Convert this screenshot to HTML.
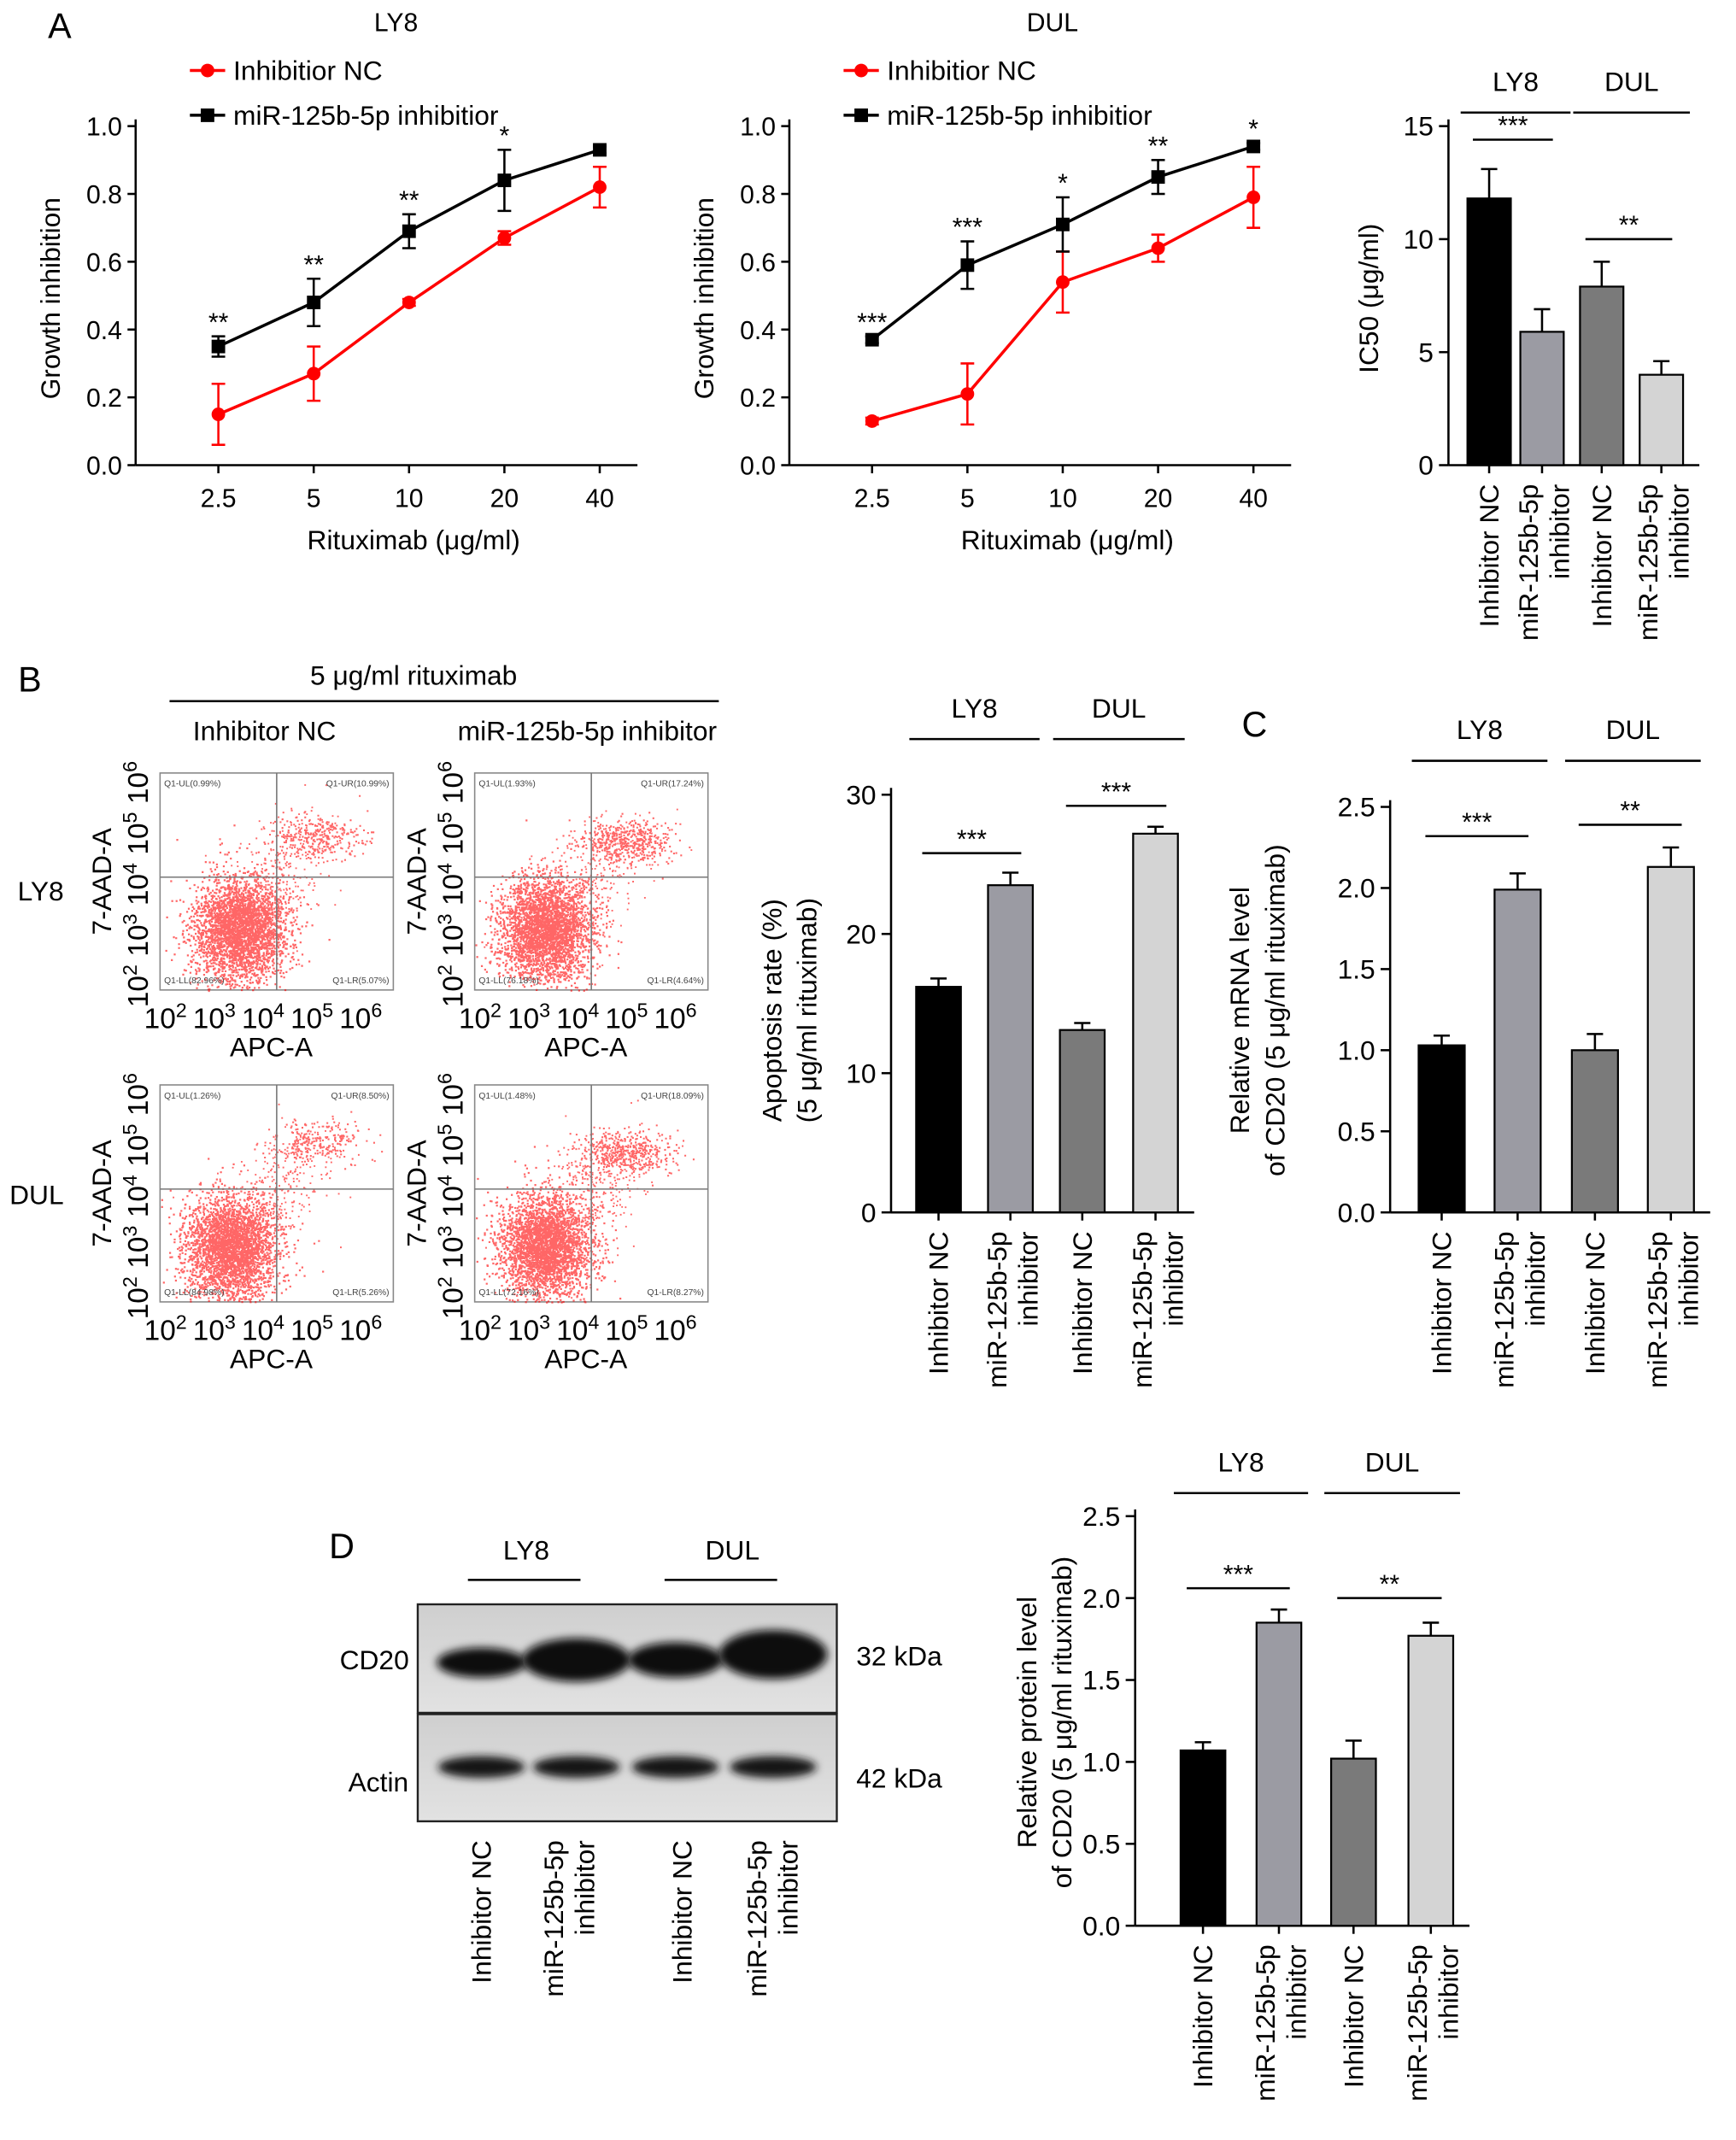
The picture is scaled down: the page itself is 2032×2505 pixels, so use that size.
<!DOCTYPE html>
<html><head><meta charset="utf-8"><style>
html,body{margin:0;padding:0;background:#fff;}
svg{display:block;font-family:"Liberation Sans",Arial,sans-serif;}
</style></head><body>
<svg id="fig" width="2032" height="2505" viewBox="0 0 1280 1578" xmlns="http://www.w3.org/2000/svg">
<defs>
<filter id="blur1" x="-20%" y="-50%" width="140%" height="200%"><feGaussianBlur stdDeviation="3"/></filter>
<linearGradient id="blotbg" x1="0" y1="0" x2="0" y2="1"><stop offset="0" stop-color="#cfcfcf"/><stop offset="1" stop-color="#e2e2e2"/></linearGradient>
</defs>
</svg>
<script>
// ---- data ----
const doseLabels = ['2.5','5','10','20','40'];
const ly8NC = [0.15,0.27,0.48,0.67,0.82];
const ly8NCErr = [0.09,0.08,0.01,0.02,0.06];
const ly8Inh = [0.35,0.48,0.69,0.84,0.93];
const ly8InhErr = [0.03,0.07,0.05,0.09,0.01];
const ly8Stars = ['**','**','**','*',''];
const dulNC = [0.13,0.21,0.54,0.64,0.79];
const dulNCErr = [0.01,0.09,0.09,0.04,0.09];
const dulInh = [0.37,0.59,0.71,0.85,0.94];
const dulInhErr = [0.01,0.07,0.08,0.05,0.01];
const dulStars = ['***','***','*','**','*'];
const growthTicks = ['0.0','0.2','0.4','0.6','0.8','1.0'];

const groupLabels = ['Inhibitor NC','miR-125b-5p|inhibitor','Inhibitor NC','miR-125b-5p|inhibitor'];
const ic50Values = [11.8,5.9,7.9,4.0];
const ic50Errs = [1.3,1.0,1.1,0.6];
const ic50Ticks = [0,5,10,15];
const apopValues = [16.2,23.5,13.1,27.2];
const apopErrs = [0.6,0.9,0.5,0.5];
const apopTicks = [0,10,20,30];
const mrnaValues = [1.03,1.99,1.0,2.13];
const mrnaErrs = [0.06,0.1,0.1,0.12];
const mrnaTicks = ['0.0','0.5','1.0','1.5','2.0','2.5'];
const protValues = [1.07,1.85,1.02,1.77];
const protErrs = [0.05,0.08,0.11,0.08];
const protTicks = ['0.0','0.5','1.0','1.5','2.0','2.5'];
const barColors = ['#000000','#9b9ba3','#7a7a7a','#d4d4d4'];

const NS='http://www.w3.org/2000/svg';
const svg=document.getElementById('fig');
function mk(tag,attrs,parent){const e=document.createElementNS(NS,tag);for(const k in attrs)e.setAttribute(k,attrs[k]);(parent||svg).appendChild(e);return e;}
function txt(s,x,y,size,anchor,name,extra){
  const t=mk('text',Object.assign({x:x,y:y,'font-size':size,'text-anchor':anchor||'middle',fill:'#000'},extra||{}));
  t.textContent=s;
  
  
  return t;
}
function ln(x1,y1,x2,y2,name,color,w){
  const l=mk('line',{x1:x1,y1:y1,x2:x2,y2:y2,stroke:color||'#000','stroke-width':w||1.6});
  
  
  return l;
}
function mixed(parts,x,y,size,anchor,name,extra){
  const t=mk('text',Object.assign({x:x,y:y,'font-size':size,'text-anchor':anchor||'middle',fill:'#000'},extra||{}));
  
  
  parts.forEach(p=>{const s=mk('tspan',p[1]?{'baseline-shift':'super','font-size':size*0.7}:{},t);s.textContent=p[0];});
  return t;
}

// ---- line charts ----
function lineChart(axX, title, titleX, nc, ncErr, inh, inhErr, stars, prefix){
  const yS=v=>343-250*v;
  const xS=i=>axX+61+i*70.3;
  txt(title,titleX,23,19,'middle',prefix+'-title');
  ln(axX,88,axX,343,prefix+'-y-axis');
  ln(axX,343,axX+370,343,prefix+'-x-axis');
  growthTicks.forEach((t,i)=>{const v=parseFloat(t);ln(axX-6,yS(v),axX,yS(v),prefix+'-y-tick');txt(t,axX-10,yS(v)+7,19,'end',prefix+'-y-tick-label');});
  doseLabels.forEach((t,i)=>{ln(xS(i),343,xS(i),349,prefix+'-x-tick');txt(t,xS(i),374,19,'middle',prefix+'-x-tick-label');});
  txt('Rituximab (μg/ml)',axX+205,405,20,'middle',prefix+'-x-axis-title');
  txt('Growth inhibition',axX-56,220,20,'middle',prefix+'-y-axis-title',{transform:`rotate(-90 ${axX-56} 220)`});
  [[nc,ncErr,'#ff0000','nc'],[inh,inhErr,'#000','inhibitor']].forEach(s=>{
    const [vals,errs,col,nm]=s;
    const pts=vals.map((v,i)=>xS(i)+','+yS(v)).join(' ');
    const pl=mk('polyline',{points:pts,fill:'none',stroke:col,'stroke-width':2.2});
    
    
    vals.forEach((v,i)=>{
      const x=xS(i);
      ln(x,yS(v-errs[i]),x,yS(v+errs[i]),prefix+'-'+nm+'-error',col,1.6);
      ln(x-5,yS(v+errs[i]),x+5,yS(v+errs[i]),prefix+'-'+nm+'-error-cap',col,1.6);
      ln(x-5,yS(v-errs[i]),x+5,yS(v-errs[i]),prefix+'-'+nm+'-error-cap',col,1.6);
      let m;
      if(nm==='nc'){m=mk('circle',{cx:x,cy:yS(v),r:5,fill:col});}
      else{m=mk('rect',{x:x-5,y:yS(v)-5,width:10,height:10,fill:col});}
      
      
    });
  });
  stars.forEach((s,i)=>{if(s){const top=yS(inh[i]+inhErr[i]);txt(s,xS(i),top-4,19,'middle',prefix+'-significance');}});
  const lx=axX+40;
  ln(lx,52,lx+26,52,prefix+'-legend-nc-line','#ff0000',2.2);
  let c=mk('circle',{cx:lx+13,cy:52,r:5,fill:'#ff0000'});
  
  
  txt('Inhibitior NC',lx+32,59,20,'start',prefix+'-legend-nc-label');
  ln(lx,85,lx+26,85,prefix+'-legend-inhibitor-line','#000',2.2);
  let r=mk('rect',{x:lx+8,y:80,width:10,height:10,fill:'#000'});
  
  
  txt('miR-125b-5p inhibitior',lx+32,92,20,'start',prefix+'-legend-inhibitor-label');
}
txt('A',44,28,26,'middle','panel-a-label');
lineChart(100,'LY8',292,ly8NC,ly8NCErr,ly8Inh,ly8InhErr,ly8Stars,'ly8-growth');
lineChart(582,'DUL',776,dulNC,dulNCErr,dulInh,dulInhErr,dulStars,'dul-growth');

// ---- bar charts ----
function barChart(c){
  const yS=v=>c.y0-c.ppu*v;
  const top=yS(parseFloat(c.ticks[c.ticks.length-1]));
  ln(c.axX,top-5,c.axX,c.y0,c.p+'-y-axis');
  ln(c.axX,c.y0,c.centers[3]+c.w/2+12,c.y0,c.p+'-x-axis');
  c.ticks.forEach(t=>{const v=parseFloat(t);ln(c.axX-7,yS(v),c.axX,yS(v),c.p+'-y-tick');txt(String(t),c.axX-11,yS(v)+7,20,'end',c.p+'-y-tick-label');});
  c.values.forEach((v,i)=>{
    const x=c.centers[i];
    const b=mk('rect',{x:x-c.w/2,y:yS(v),width:c.w,height:c.y0-yS(v),fill:barColors[i],stroke:'#000','stroke-width':1.4});
    
    
    ln(x,yS(v),x,yS(v+c.errs[i]),c.p+'-error-bar');
    ln(x-6,yS(v+c.errs[i]),x+6,yS(v+c.errs[i]),c.p+'-error-cap');
    ln(x,c.y0,x,c.y0+6,c.p+'-x-tick');
    const parts=groupLabels[i].split('|');
    const ty=c.y0+14;
    if(parts.length===1){txt(parts[0],x+7,ty,20,'end',c.p+'-x-label',{transform:`rotate(-90 ${x+7} ${ty})`});}
    else{
      txt(parts[0],x-3,ty,20,'end',c.p+'-x-label',{transform:`rotate(-90 ${x-3} ${ty})`});
      txt(parts[1],x+20,ty,20,'end',c.p+'-x-label',{transform:`rotate(-90 ${x+20} ${ty})`});
    }
  });
  txt('LY8',(c.centers[0]+c.centers[1])/2,c.hy,20,'middle',c.p+'-ly8-header');
  ln(c.centers[0]-c.w/2-5,c.hy+16,c.centers[1]+c.w/2+5,c.hy+16,c.p+'-ly8-header-line');
  txt('DUL',(c.centers[2]+c.centers[3])/2,c.hy,20,'middle',c.p+'-dul-header');
  ln(c.centers[2]-c.w/2-5,c.hy+16,c.centers[3]+c.w/2+5,c.hy+16,c.p+'-dul-header-line');
  c.sig.forEach(s=>{
    const [a,b,val,lab]=s;
    const y=yS(val);
    ln(c.centers[a]-12,y,c.centers[b]+8,y,c.p+'-significance-line');
    txt(lab,(c.centers[a]+c.centers[b])/2-2,y-4,19,'middle',c.p+'-significance-stars');
  });
  c.ytitle.forEach((t,i)=>{const x=c.tx+i*26;txt(t,x,c.ty,20,'middle',c.p+'-y-axis-title',{transform:`rotate(-90 ${x} ${c.ty})`});});
}
barChart({p:'ic50',axX:1068,y0:343,ppu:250/15,ticks:ic50Ticks,values:ic50Values,errs:ic50Errs,centers:[1098,1137,1181,1225],w:32,hy:67,
  sig:[[0,1,14.4,'***'],[2,3,10,'**']],ytitle:['IC50 (μg/ml)'],tx:1016,ty:220});
barChart({p:'apoptosis',axX:657,y0:894,ppu:308/30,ticks:apopTicks,values:apopValues,errs:apopErrs,centers:[692,745,798,852],w:33,hy:529,
  sig:[[0,1,25.8,'***'],[2,3,29.2,'***']],ytitle:['Apoptosis rate (%)','(5 μg/ml rituximab)'],tx:576,ty:745});
txt('C',925,543,26,'middle','panel-c-label');
barChart({p:'mrna',axX:1025,y0:894,ppu:299/2.5,ticks:mrnaTicks,values:mrnaValues,errs:mrnaErrs,centers:[1063,1119,1176,1232],w:34,hy:545,
  sig:[[0,1,2.32,'***'],[2,3,2.39,'**']],ytitle:['Relative mRNA level','of CD20 (5 μg/ml rituximab)'],tx:921,ty:745});
barChart({p:'protein',axX:837,y0:1420,ppu:302/2.5,ticks:protTicks,values:protValues,errs:protErrs,centers:[887,943,998,1055],w:33,hy:1085,
  sig:[[0,1,2.06,'***'],[2,3,2.0,'**']],ytitle:['Relative protein level','of CD20 (5 μg/ml rituximab)'],tx:764,ty:1270});

// ---- panel B flow ----
txt('B',22,510,26,'middle','panel-b-label');
txt('5 μg/ml rituximab',305,505,20,'middle','treatment-label');
ln(125,517,530,517,'treatment-line');
txt('Inhibitor NC',195,546,20,'middle','flow-col-nc');
txt('miR-125b-5p inhibitor',433,546,20,'middle','flow-col-inhibitor');
txt('LY8',30,664,20,'middle','flow-row-ly8');
txt('DUL',27,888,20,'middle','flow-row-dul');
let seed=7;
function rnd(){seed=(seed*16807)%2147483647;return seed/2147483647;}
function gauss(){return Math.sqrt(-2*Math.log(rnd()+1e-9))*Math.cos(2*Math.PI*rnd());}
function flow(x0,y0,q,llc,urc,urn){
  const W=172,H=160,qx=x0+W*0.5,qy=y0+H*0.48;
  const g=mk('g',{});
  
  
  const bx=mk('rect',{x:x0,y:y0,width:W,height:H,fill:'#fff',stroke:'#888','stroke-width':1},g);
  
  
  let d='';
  for(let i=0;i<3200;i++){const x=x0+llc[0]+gauss()*17,y=y0+llc[1]+gauss()*19;if(x>x0&&x<x0+W&&y>y0&&y<y0+H)d+=`M${x.toFixed(1)} ${y.toFixed(1)}h1.4v1.4h-1.4z`;}
  for(let i=0;i<urn;i++){const x=x0+urc[0]+gauss()*18,y=y0+urc[1]+gauss()*8;if(x>x0&&x<x0+W&&y>y0&&y<y0+H)d+=`M${x.toFixed(1)} ${y.toFixed(1)}h1.3v1.3h-1.3z`;}
  for(let i=0;i<350;i++){const t=rnd();const x=x0+llc[0]+(urc[0]-llc[0])*t+gauss()*16,y=y0+llc[1]+(urc[1]-llc[1])*t+gauss()*16;if(x>x0&&x<x0+W&&y>y0&&y<y0+H)d+=`M${x.toFixed(1)} ${y.toFixed(1)}h1.2v1.2h-1.2z`;}
  const p=mk('path',{d:d,fill:'#ff0000','fill-opacity':0.6},g);
  
  
  ln(qx,y0,qx,y0+H,'flow-quadrant-v','#777',1);
  ln(x0,qy,x0+W,qy,'flow-quadrant-h','#777',1);
  txt(q[0],x0+3,y0+10,6.5,'start','flow-quadrant-ul',{fill:'#444'});
  txt(q[1],x0+W-3,y0+10,6.5,'end','flow-quadrant-ur',{fill:'#444'});
  txt(q[2],x0+3,y0+H-5,6.5,'start','flow-quadrant-ll',{fill:'#444'});
  txt(q[3],x0+W-3,y0+H-5,6.5,'end','flow-quadrant-lr',{fill:'#444'});
  ['2','3','4','5','6'].forEach((e,i)=>{
    mixed([['10'],[e,1]],x0+4+i*36,y0+H+28,21,'middle','flow-x-tick-label');
    const yy=y0+H-3-i*37.5;
    mixed([['10'],[e,1]],x0-9,yy,21,'middle','flow-y-tick-label',{transform:`rotate(-90 ${x0-9} ${yy})`});
  });
  txt('APC-A',x0+82,y0+H+49,20,'middle','flow-x-axis-title');
  txt('7-AAD-A',x0-36,y0+80,20,'middle','flow-y-axis-title',{transform:`rotate(-90 ${x0-36} ${y0+80})`});
}
flow(118,570,['Q1-UL(0.99%)','Q1-UR(10.99%)','Q1-LL(82.96%)','Q1-LR(5.07%)'],[58,115],[115,47],300);
flow(350,570,['Q1-UL(1.93%)','Q1-UR(17.24%)','Q1-LL(76.18%)','Q1-LR(4.64%)'],[52,115],[110,50],480);
flow(118,800,['Q1-UL(1.26%)','Q1-UR(8.50%)','Q1-LL(84.98%)','Q1-LR(5.26%)'],[52,120],[115,42],250);
flow(350,800,['Q1-UL(1.48%)','Q1-UR(18.09%)','Q1-LL(72.16%)','Q1-LR(8.27%)'],[52,118],[110,50],500);

// ---- panel D blot ----
txt('D',252,1149,26,'middle','panel-d-label');
txt('LY8',388,1150,20,'middle','blot-ly8-header');
ln(345,1165,428,1165,'blot-ly8-line');
txt('DUL',540,1150,20,'middle','blot-dul-header');
ln(490,1165,573,1165,'blot-dul-line');
[[1183,'cd20-blot'],[1264,'actin-blot']].forEach(b=>{
  const r=mk('rect',{x:308,y:b[0],width:309,height:b[0]===1183?80:79,fill:'url(#blotbg)',stroke:'#222','stroke-width':1.5});
  
  
});
const cdBands=[[355,1226,33,11],[425,1224,40,16],[498,1224,35,13],[570,1220,40,18]];
cdBands.forEach(b=>{const e=mk('ellipse',{cx:b[0],cy:b[1],rx:b[2],ry:b[3],fill:'#111',filter:'url(#blur1)'});});
[355,425,498,570].forEach(x=>{const e=mk('ellipse',{cx:x,cy:1303,rx:32,ry:8,fill:'#151515',filter:'url(#blur1)'});});
txt('CD20',276,1231,20,'middle','cd20-label');
txt('Actin',279,1321,20,'middle','actin-label');
txt('32 kDa',663,1228,20,'middle','cd20-kda');
txt('42 kDa',663,1318,20,'middle','actin-kda');
[355,418,503,568].forEach((x,i)=>{
  const parts=groupLabels[i].split('|');
  const ty=1357;
  if(parts.length===1){txt(parts[0],x+7,ty,20,'end','blot-lane-label',{transform:`rotate(-90 ${x+7} ${ty})`});}
  else{
    txt(parts[0],x-3,ty,20,'end','blot-lane-label',{transform:`rotate(-90 ${x-3} ${ty})`});
    txt(parts[1],x+20,ty,20,'end','blot-lane-label',{transform:`rotate(-90 ${x+20} ${ty})`});
  }
});
</script>
</body></html>
